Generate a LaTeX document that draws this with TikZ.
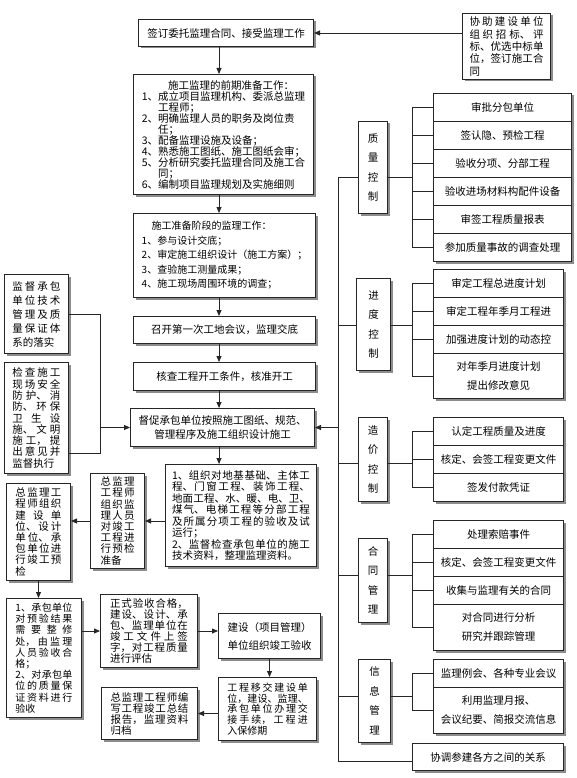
\documentclass[tikz,border=0pt]{standalone}
\usepackage{fontspec}
\setmainfont{Noto Sans CJK SC}
\usetikzlibrary{arrows.meta,shadows}
\XeTeXlinebreaklocale "zh"
\XeTeXlinebreakskip=0pt
\newcommand\jfill{\parindent=0pt\XeTeXlinebreakskip=0pt plus 1fil\relax\parfillskip=0pt plus 1fill\relax}
\newcommand\jbreak{\hfill\break}
\newcommand\jend{\hfill\null}
\tikzset{
  box/.style={draw=black!85, line width=1pt, fill=white, inner sep=0pt, anchor=north west,
    drop shadow={shadow xshift=2pt, shadow yshift=-2pt, fill=black!45, opacity=1},
    font=\fontsize{10.5}{11.5}\selectfont},
  jbox/.style={box, align=justify},
  row/.style={box, minimum width=130pt, minimum height=28pt, align=center, font=\fontsize{10.5}{19}\selectfont},
  vlab/.style={box, align=center, font=\fontsize{10.5}{19.5}\selectfont},
  arr/.style={-{Triangle[length=6pt,width=5pt]}}
}
\begin{document}
\begin{tikzpicture}[x=1pt, y=-1pt, line width=0.8pt, draw=black!85]
  \useasboundingbox (0,0) rectangle (577,778);

  % main column
  \node[box, minimum width=175pt, minimum height=27pt] (sign) at (138,19) {签订委托监理合同、接受监理工作};
  \node[jbox, text width=74pt, minimum width=88pt, minimum height=66pt, font=\fontsize{10.5}{12.3}\selectfont] (assist) at (462,13) {\jfill 协助建设单位\linebreak 组织招标、评\linebreak 标、优选中标单\linebreak 位，签订施工合\linebreak 同\jend};
  \node[box, align=left, minimum width=180pt, minimum height=120pt, font=\fontsize{10.5}{11}\selectfont] (prep) at (133,74) {\hspace*{2.5em}施工监理的前期准备工作：\\1、成立项目监理机构、委派总监理\\\phantom{1、}工程师；\\2、明确监理人员的职务及岗位责\\\phantom{2、}任；\\3、配备监理设施及设备；\\4、熟悉施工图纸、施工图纸会审；\\5、分析研究委托监理合同及施工合\\\phantom{5、}同；\\6、编制项目监理规划及实施细则};
  \node[box, align=left, minimum width=182pt, minimum height=84pt, font=\fontsize{10}{14.5}\selectfont] (stage) at (133,213) {\hspace*{1em}施工准备阶段的监理工作：\\1、参与设计交底；\\2、审定施工组织设计（施工方案）；\\3、查验施工测量成果；\\4、施工现场周围环境的调查；};
  \node[box, minimum width=182pt, minimum height=27pt] (meet) at (133,316) {召开第一次工地会议，监理交底};
  \node[box, minimum width=182pt, minimum height=28pt] (check) at (133,362) {核查工程开工条件，核准开工};
  \node[box, align=center, minimum width=184pt, minimum height=38pt, font=\fontsize{10.5}{13.5}\selectfont] (urge) at (130,408) {督促承包单位按照施工图纸、规范、\\管理程序及施工组织设计施工};
  \node[jbox, text width=138pt, minimum width=151pt, minimum height=102pt] (accept) at (165,464) {\jfill 1、组织对地基基础、主体工\linebreak 程、门窗工程、装饰工程、\linebreak 地面工程、水、暖、电、卫、\linebreak 煤气、电梯工程等分部工程\linebreak 及所属分项工程的验收及试\linebreak 运行；\jbreak 2、监督检查承包单位的施工\linebreak 技术资料，整理监理资料。\jend};

  % left side
  \node[jbox, text width=48pt, minimum width=64pt, minimum height=79pt, font=\fontsize{10.5}{14}\selectfont] (superA) at (4,274) {\jfill 监督承包\linebreak 单位技术\linebreak 管理及质\linebreak 量保证体\linebreak 系的落实\jend};
  \node[jbox, text width=48pt, minimum width=64pt, minimum height=111pt, font=\fontsize{10.5}{11.3}\selectfont] (superB) at (4,362) {\jfill 检查施工\linebreak 现场安全\linebreak 防护、消\linebreak 防、环保\linebreak 卫生设\linebreak 施、文明\linebreak 施工，提\linebreak 出意见并\linebreak 监督执行\jend};
  \node[jbox, text width=34pt, minimum width=54pt, minimum height=95pt, font=\fontsize{10.5}{11.2}\selectfont] (precheck) at (90,473) {\jfill 总监理\linebreak 工程师\linebreak 组织监\linebreak 理人员\linebreak 对竣工\linebreak 工程进\linebreak 行预检\linebreak 准备\jend};
  \node[jbox, text width=46pt, minimum width=64pt, minimum height=97pt, font=\fontsize{10.5}{11.2}\selectfont] (chief) at (6,483) {\jfill 总监理工\linebreak 程师组织\linebreak 建设单\linebreak 位、设计\linebreak 单位、承\linebreak 包单位进\linebreak 行竣工预\linebreak 检\jend};
  \node[jbox, text width=57pt, minimum width=75pt, minimum height=119pt, font=\fontsize{10}{11.2}\selectfont] (rectify) at (6,598) {\jfill 1、承包单位\linebreak 对预验结果\linebreak 需要整修\linebreak 处，由监理\linebreak 人员验收合\linebreak 格；\jbreak 2、对承包单\linebreak 位的质量保\linebreak 证资料进行\linebreak 验收\jend};
  \node[jbox, text width=78pt, minimum width=97pt, minimum height=73pt, font=\fontsize{10.5}{11}\selectfont] (formal) at (100,594) {\jfill 正式验收合格，\linebreak 建设、设计、承\linebreak 包、监理单位在\linebreak 竣工文件上签\linebreak 字，对工程质量\linebreak 进行评估\jend};
  \node[box, align=left, minimum width=102pt, minimum height=45pt, font=\fontsize{10.5}{18}\selectfont] (owner) at (218,613) {建设（项目管理）\\单位组织竣工验收};
  \node[jbox, text width=80.5pt, minimum width=98pt, minimum height=63pt, font=\fontsize{10}{10.8}\selectfont] (handover) at (218,677) {\jfill 工程移交建设单\linebreak 位，建设、监理、\linebreak 承包单位办理交\linebreak 接手续，工程进\linebreak 入保修期\jend};
  \node[jbox, text width=78pt, minimum width=96pt, minimum height=52pt, font=\fontsize{10.5}{11}\selectfont] (report) at (101,687) {\jfill 总监理工程师编\linebreak 写工程竣工总结\linebreak 报告，监理资料\linebreak 归档\jend};

  % right side
  \node[vlab, minimum width=29pt, minimum height=92pt] (qlab) at (358,121) {质\\量\\控\\制};
  \node[vlab, minimum width=34pt, minimum height=92pt] (plab) at (356,278) {进\\度\\控\\制};
  \node[vlab, minimum width=29pt, minimum height=84pt] (clab) at (358,417) {造\\价\\控\\制};
  \node[vlab, minimum width=29pt, minimum height=84pt] (tlab) at (358,538) {合\\同\\管\\理};
  \node[vlab, minimum width=32pt, minimum height=83pt] (ilab) at (358,659) {信\\息\\管\\理};

  \foreach \t [count=\i] in {审批分包单位,签认隐、预检工程,验收分项、分部工程,验收进场材料构配件设备,审签工程质量报表,参加质量事故的调查处理}
    \node[row, minimum width=138pt] (q\i) at (433,{93+28*(\i-1)}) {\t};
  \foreach \t [count=\i] in {审定工程总进度计划,审定工程年季月工程进,加强进度计划的动态控}
    \node[row] (p\i) at (433,{269+28*(\i-1)}) {\t};
  \node[row, minimum height=45pt] (p4) at (433,353) {对年季月进度计划\\提出修改意见};
  \foreach \t [count=\i] in {认定工程质量及进度,核定、会签工程变更文件,签发付款凭证}
    \node[row] (c\i) at (433,{417+28*(\i-1)}) {\t};
  \foreach \t [count=\i] in {处理索赔事件,核定、会签工程变更文件,收集与监理有关的合同}
    \node[row] (t\i) at (433,{520+28*(\i-1)}) {\t};
  \node[row, minimum height=46pt] (t4) at (433,604) {对合同进行分析\\研究并跟踪管理};
  \node[row] (i1) at (433,659) {监理例会、各种专业会议};
  \node[row, minimum height=46pt] (i2) at (433,687) {利用监理月报、\\会议纪要、简报交流信息};
  \node[box, minimum width=151pt, minimum height=27pt] (coord) at (412,743) {协调参建各方之间的关系};

  % main flow
  \coordinate (spine) at (219,0);
  \draw[arr] (assist.west |- sign.east) -- (sign.east);
  \draw[arr] (sign.south -| spine) -- (prep.north -| spine);
  \draw[arr] (prep.south -| spine) -- (stage.north -| spine);
  \draw[arr] (stage.south -| spine) -- (meet.north -| spine);
  \draw[arr] (meet.south -| spine) -- (check.north -| spine);
  \draw[arr] (check.south -| spine) -- (urge.north -| spine);
  \draw[arr] (urge.south -| spine) -- (accept.north -| spine);
  \draw[arr] (accept.west |- precheck.east) -- (precheck.east);
  \draw[arr] (precheck.west) -- (precheck.west -| chief.east);
  \draw[arr] (chief.south) -- (chief.south |- rectify.north);
  \draw[arr] (rectify.east |- formal.west) -- (formal.west);
  \draw[arr] (formal.east) -- (formal.east -| owner.west);
  \draw[arr] (owner.south) -- (owner.south |- handover.north);
  \draw[arr] (handover.west |- report.east) -- (report.east);

  % left join
  \coordinate (lbot) at (100,453);
  \draw (superA.east) -| (lbot) -- (lbot -| superB.east);
  \draw[arr] (lbot |- urge.west) -- (urge.west);

  % trunk and brackets
  \coordinate (qc) at (338,177);
  \coordinate (pc) at (338,325);
  \coordinate (cc) at (338,463);
  \coordinate (tc) at (338,575);
  \coordinate (ic) at (338,696);
  \coordinate (oc) at (338,761);
  \coordinate (brk) at (412,0);
  \draw (qc) -- (oc) -- (oc -| coord.west);
  \draw[arr] (qc |- urge.east) -- (urge.east);
  \draw (qc) -- (qc -| qlab.west) (qc -| qlab.east) -- (qc -| brk);
  \draw (pc) -- (pc -| plab.west) (pc -| plab.east) -- (pc -| brk);
  \draw (cc) -- (cc -| clab.west) (cc -| clab.east) -- (cc -| brk);
  \draw (tc) -- (tc -| tlab.west) (tc -| tlab.east) -- (tc -| brk);
  \draw (ic) -- (ic -| ilab.west) (ic -| ilab.east) -- (ic -| brk);
  \draw (q1.west -| brk) -- (q6.west -| brk);
  \draw (p1.west -| brk) -- (p4.west -| brk);
  \draw (c1.west -| brk) -- (c3.west -| brk);
  \draw (t1.west -| brk) -- (t4.west -| brk);
  \draw (i1.west -| brk) -- (i2.west -| brk);
  \foreach \n in {q1,q2,q3,q4,q5,q6,p1,p2,p3,p4,c1,c2,c3,t1,t2,t3,t4,i1,i2}
    \draw (\n.west -| brk) -- (\n.west);
\end{tikzpicture}
\end{document}
